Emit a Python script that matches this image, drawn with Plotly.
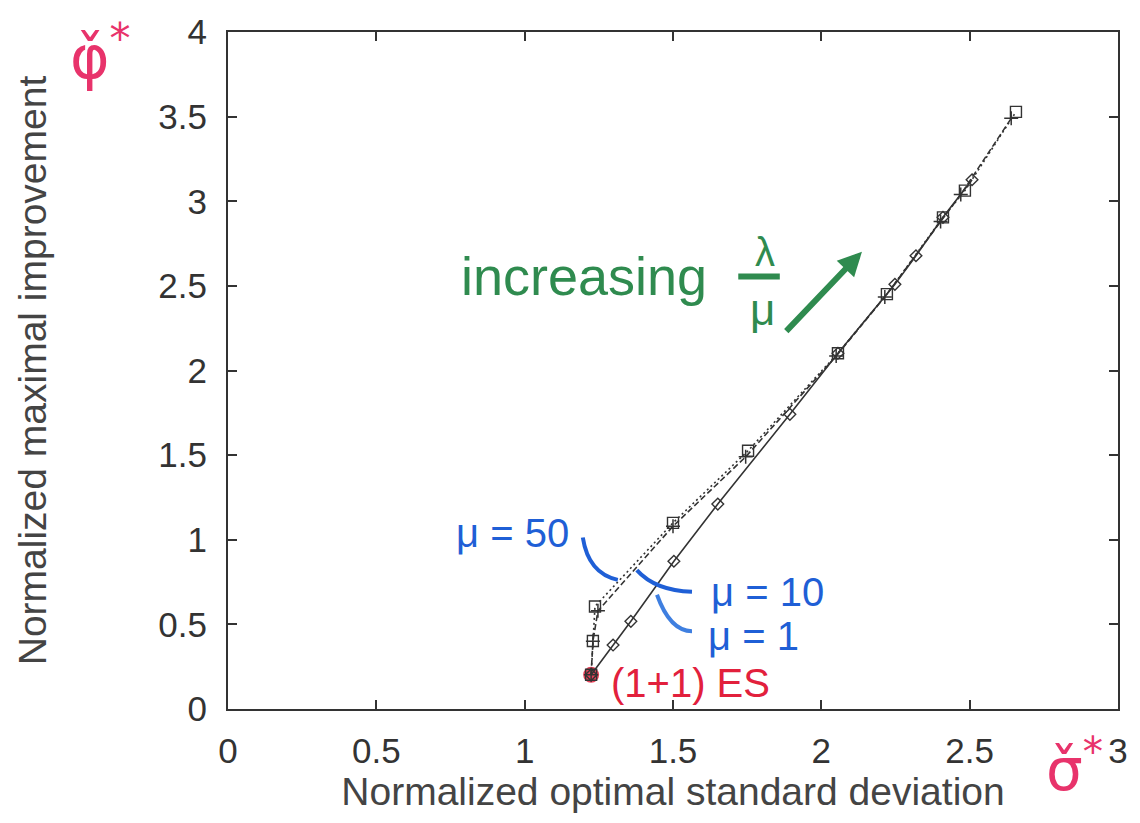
import plotly.graph_objects as go

# ---- data ----
mu1_x = [1.224, 1.298, 1.358, 1.503, 1.651, 1.894, 2.056, 2.248, 2.319, 2.410, 2.508]
mu1_y = [0.202, 0.378, 0.518, 0.873, 1.211, 1.741, 2.102, 2.509, 2.678, 2.905, 3.127]

mu10_x = [1.224, 1.230, 1.247, 1.500, 1.745, 2.050, 2.214, 2.402, 2.470, 2.640]
mu10_y = [0.202, 0.400, 0.580, 1.080, 1.490, 2.085, 2.435, 2.880, 3.040, 3.490]

mu50_x = [1.224, 1.230, 1.237, 1.500, 1.753, 2.056, 2.221, 2.410, 2.484, 2.656]
mu50_y = [0.202, 0.402, 0.606, 1.100, 1.526, 2.102, 2.451, 2.905, 3.063, 3.528]

es11_x = [1.224]
es11_y = [0.202]

x_ticks = [0, 0.5, 1, 1.5, 2, 2.5, 3]
y_ticks = [0, 0.5, 1, 1.5, 2, 2.5, 3, 3.5, 4]

FONT = "Liberation Sans"
INK = "#333333"
GREEN = "#2f8b4f"
BLUE = "#1f5fd6"
RED = "#e2203c"
PINK = "#e8336b"

fig = go.Figure()

# red hand-drawn dot at (1+1)-ES
fig.add_trace(go.Scatter(x=es11_x, y=es11_y, mode="markers",
                         marker=dict(symbol="circle", size=16, color=RED, opacity=0.85),
                         showlegend=False, hoverinfo="skip"))

fig.add_trace(go.Scatter(x=mu50_x, y=mu50_y, mode="lines+markers", name="mu=50",
                         line=dict(color=INK, width=1.6, dash="2px,3px"),
                         marker=dict(symbol="square-open", size=11, color=INK,
                                     line=dict(width=1.4, color=INK)),
                         showlegend=False))
fig.add_trace(go.Scatter(x=mu10_x, y=mu10_y, mode="lines+markers", name="mu=10",
                         line=dict(color=INK, width=1.6, dash="6px,3px"),
                         marker=dict(symbol="cross-thin-open", size=10, color=INK,
                                     line=dict(width=1.5, color=INK)),
                         showlegend=False))
fig.add_trace(go.Scatter(x=mu1_x, y=mu1_y, mode="lines+markers", name="mu=1",
                         line=dict(color=INK, width=1.6),
                         marker=dict(symbol="diamond-open", size=9, color=INK,
                                     line=dict(width=1.4, color=INK)),
                         showlegend=False))

ann = []
# green annotation
ann.append(dict(x=1.20, y=2.556, xref="x", yref="y", text="increasing", showarrow=False,
                font=dict(family=FONT, size=54, color=GREEN)))
ann.append(dict(x=1.81, y=2.70, xref="x", yref="y", text="λ", showarrow=False,
                font=dict(family=FONT, size=40, color=GREEN)))
ann.append(dict(x=1.80, y=2.36, xref="x", yref="y", text="μ", showarrow=False,
                font=dict(family=FONT, size=44, color=GREEN)))
ann.append(dict(x=2.137, y=2.702, ax=1.877, ay=2.224, xref="x", yref="y", axref="x", ayref="y",
                text="", showarrow=True, arrowhead=2, arrowsize=0.8, arrowwidth=6,
                arrowcolor=GREEN))
# blue annotations
ann.append(dict(x=0.96, y=1.04, xref="x", yref="y", text="μ = 50", showarrow=False,
                font=dict(family=FONT, size=40, color=BLUE)))
ann.append(dict(x=1.82, y=0.69, xref="x", yref="y", text="μ = 10", showarrow=False,
                font=dict(family=FONT, size=40, color=BLUE)))
ann.append(dict(x=1.77, y=0.43, xref="x", yref="y", text="μ = 1", showarrow=False,
                font=dict(family=FONT, size=40, color=BLUE)))
# red annotation
ann.append(dict(x=1.56, y=0.155, xref="x", yref="y", text="(1+1) ES", showarrow=False,
                font=dict(family=FONT, size=40, color=RED)))
# pink symbols
ann.append(dict(x=-0.18, y=1.03, xref="paper", yref="paper", yanchor="top",
                text="φ̌<sup>*</sup>",
                showarrow=False, font=dict(family="DejaVu Sans", size=60, color=PINK)))
ann.append(dict(x=0.985, y=-0.025, xref="paper", yref="paper", yanchor="top",
                text="σ̌<sup>*</sup>",
                showarrow=False, font=dict(family="DejaVu Sans", size=58, color=PINK)))

shapes = [
    dict(type="line", xref="x", yref="y", x0=1.72, x1=1.86, y0=2.556, y1=2.556,
         line=dict(color=GREEN, width=6)),
    dict(type="path", xref="x", yref="y",
         path="M 1.196,1.013 Q 1.215,0.80 1.314,0.763", line=dict(color=BLUE, width=4)),
    dict(type="path", xref="x", yref="y",
         path="M 1.378,0.821 Q 1.44,0.70 1.564,0.693", line=dict(color=BLUE, width=4)),
    dict(type="path", xref="x", yref="y",
         path="M 1.446,0.675 Q 1.49,0.46 1.564,0.460", line=dict(color="#3f7fe0", width=4)),
]

fig.update_layout(
    width=1140, height=823,
    margin=dict(l=228, r=22, t=22, b=114),
    paper_bgcolor="white", plot_bgcolor="white",
    font=dict(family=FONT, color=INK),
    annotations=ann, shapes=shapes,
    xaxis=dict(range=[0, 3], tickvals=x_ticks, ticks="inside", ticklen=9, tickwidth=1.5,
               tickcolor=INK, showline=True, linecolor=INK, linewidth=2, mirror="allticks",
               showgrid=False, zeroline=False, ticklabelstandoff=10,
               tickfont=dict(family=FONT, size=35, color=INK),
               title=dict(text="Normalized optimal standard deviation", standoff=0,
                          font=dict(family=FONT, size=39, color="#444444"))),
    yaxis=dict(range=[0, 4], tickvals=y_ticks, ticks="inside", ticklen=9, tickwidth=1.5,
               tickcolor=INK, showline=True, linecolor=INK, linewidth=2, mirror="allticks",
               showgrid=False, zeroline=False, ticklabelstandoff=12,
               tickfont=dict(family=FONT, size=35, color=INK),
               title=dict(text="Normalized maximal improvement", standoff=100,
                          font=dict(family=FONT, size=39, color="#444444"))),
)

fig.write_html("out.html")
